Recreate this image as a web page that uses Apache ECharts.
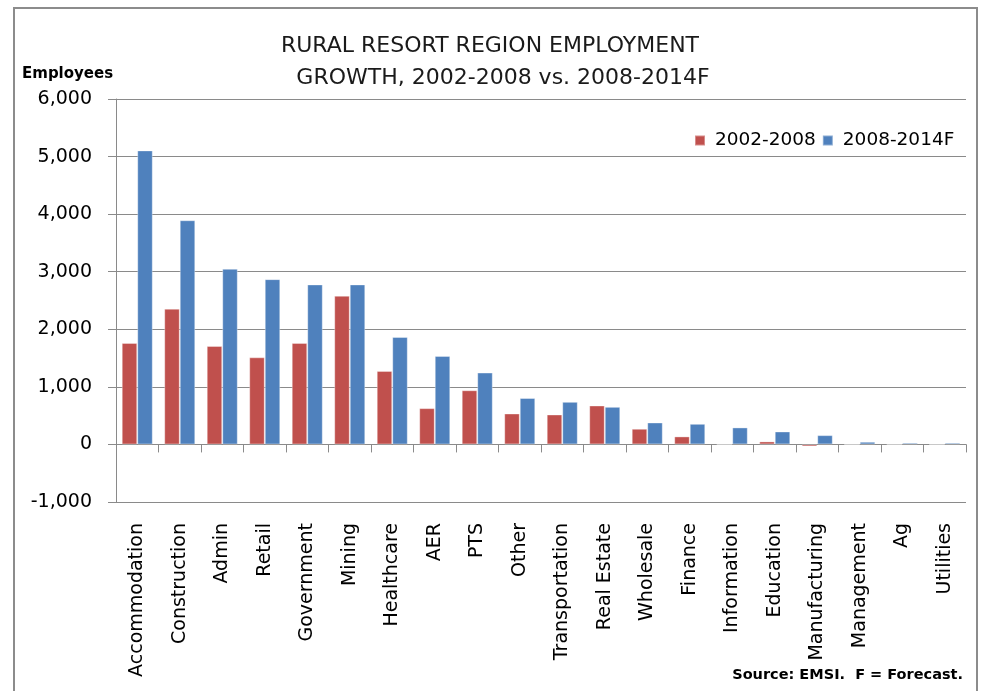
<!DOCTYPE html>
<html><head><meta charset="utf-8">
<script src="https://cdn.jsdelivr.net/npm/echarts@6/dist/echarts.min.js"></script>
<style>html,body{margin:0;padding:0;background:#fff}#c{width:986px;height:691px}</style>
</head><body><div id="c"></div>
<script>
const categories = ["Accommodation","Construction","Admin","Retail","Government","Mining","Healthcare","AER","PTS","Other","Transportation","Real Estate","Wholesale","Finance","Information","Education","Manufacturing","Management","Ag","Utilities"];
const seriesNames = ["2002-2008","2008-2014F"];
const growth0208 = [1763,2357,1710,1513,1763,2582,1277,630,941,537,520,676,272,139,0,52,-35,0,0,0];
const growth0814 = [5107,3894,3050,2871,2779,2779,1866,1537,1248,806,740,653,381,358,295,225,161,46,29,29];
const yTicks = {min:-1000, max:6000, interval:1000};
const titleLines = ["RURAL RESORT REGION EMPLOYMENT","GROWTH, 2002-2008 vs. 2008-2014F"];
const yName = "Employees";
const sourceNote = "Source: EMSI.  F = Forecast.";

const FONT = "DejaVu Sans";
const gridCol = "#8a8a8a";
const chart = echarts.init(document.getElementById('c'), null, {renderer:'canvas'});
chart.setOption({
  animation:false,
  backgroundColor:'#fff',
  textStyle:{fontFamily:FONT},
  grid:{left:116, right:20, top:99, bottom:189, containLabel:false},
  legend:{
    data:seriesNames, left:690, top:127, itemWidth:10, itemHeight:10, itemGap:6,
    icon:'rect', backgroundColor:'#fff', padding:[4,6,4,4],
    textStyle:{fontFamily:FONT, fontSize:18.5, color:'#000', padding:[0,0,0,5]}
  },
  xAxis:[
    {type:'category', data:categories, boundaryGap:true,
     axisLine:{show:true, onZero:true, lineStyle:{color:gridCol, width:1}},
     axisTick:{show:true, interval:0, length:8, inside:false, lineStyle:{color:gridCol}},
     axisLabel:{show:false, interval:0}, splitLine:{show:false}},
    {type:'category', data:categories, position:'bottom', boundaryGap:true,
     axisLine:{show:false, onZero:false}, axisTick:{show:false},
     axisLabel:{show:true, rotate:90, interval:0, margin:21, fontFamily:FONT, fontSize:19, color:'#000'},
     splitLine:{show:false}}
  ],
  yAxis:{type:'value', min:yTicks.min, max:yTicks.max, interval:yTicks.interval,
    axisLine:{show:true, lineStyle:{color:gridCol, width:1}},
    axisTick:{show:true, length:8, lineStyle:{color:gridCol}},
    axisLabel:{margin:24, fontFamily:FONT, fontSize:19, color:'#000',
      formatter:v=>v.toLocaleString('en-US')},
    splitLine:{show:true, lineStyle:{color:gridCol, width:1}}
  },
  series:[
    {name:seriesNames[0], type:'bar', xAxisIndex:0, data:growth0208, barGap:'0%', barCategoryGap:'27%',
     itemStyle:{color:'#C0504D', borderColor:'rgba(255,255,255,0.35)', borderWidth:1}},
    {name:seriesNames[1], type:'bar', xAxisIndex:0, data:growth0814, barGap:'0%', barCategoryGap:'27%',
     itemStyle:{color:'#4F81BD', borderColor:'rgba(255,255,255,0.35)', borderWidth:1}}
  ],
  graphic:[
    {type:'rect', shape:{x:14, y:8, width:963, height:700}, style:{fill:'none', stroke:'#8c8c8c', lineWidth:2}, z:-1, silent:true},
    {type:'text', x:490, y:46, style:{text:titleLines[0], font:'22px "DejaVu Sans"', fill:'#1a1a1a', align:'center', verticalAlign:'middle'}},
    {type:'text', x:503, y:78, style:{text:titleLines[1], font:'22px "DejaVu Sans"', fill:'#1a1a1a', align:'center', verticalAlign:'middle'}},
    {type:'text', x:22, y:74, style:{text:yName, font:'bold 15px "DejaVu Sans"', fill:'#000', align:'left', verticalAlign:'middle'}},
    {type:'text', x:963, y:675, style:{text:sourceNote, font:'bold 14.5px "DejaVu Sans"', fill:'#000', align:'right', verticalAlign:'middle'}}
  ]
});
</script></body></html>
